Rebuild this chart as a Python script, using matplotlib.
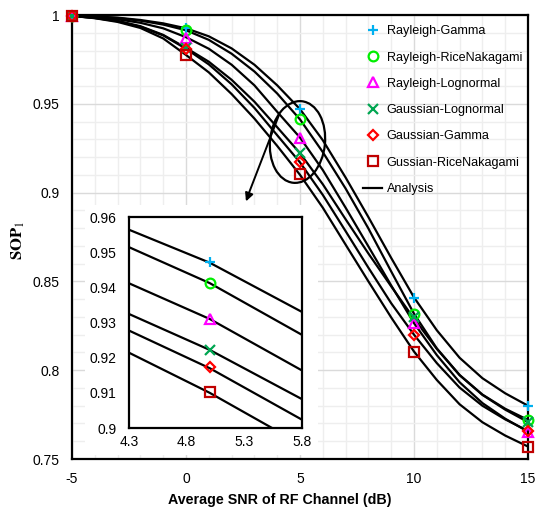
import numpy as np
import matplotlib.pyplot as plt
from matplotlib.patches import Ellipse, Rectangle

plt.rcParams['font.family'] = ['Liberation Sans', 'DejaVu Sans']
plt.rcParams['axes.unicode_minus'] = False
plt.rcParams['mathtext.fontset'] = 'stix'

# Analysis curves (1 dB step)
snr = [-5, -4, -3, -2, -1, 0, 1, 2, 3, 4, 5, 6, 7, 8, 9, 10, 11, 12, 13, 14, 15]
ana_rg = [0.9995, 0.9992, 0.9985, 0.9972, 0.9953, 0.9925, 0.9880, 0.9812, 0.9720, 0.9604, 0.9470,
          0.9295, 0.9085, 0.8862, 0.8632, 0.8410, 0.8225, 0.8070, 0.7955, 0.7870, 0.7800]
ana_rrn = [0.9995, 0.9991, 0.9983, 0.9968, 0.9946, 0.9914, 0.9860, 0.9782, 0.9682, 0.9558, 0.9412,
           0.9228, 0.9023, 0.8798, 0.8556, 0.8318, 0.8123, 0.7973, 0.7863, 0.7783, 0.7720]
ana_rl = [0.9995, 0.9988, 0.9976, 0.9956, 0.9925, 0.9875, 0.9810, 0.9720, 0.9604, 0.9455, 0.9310,
          0.9127, 0.8915, 0.8697, 0.8477, 0.8265, 0.8085, 0.7932, 0.7815, 0.7727, 0.7654]
ana_gl = [0.9995, 0.9984, 0.9967, 0.9937, 0.9888, 0.9815, 0.9737, 0.9635, 0.9512, 0.9368, 0.9222,
          0.9047, 0.8850, 0.8657, 0.8472, 0.8290, 0.8120, 0.7972, 0.7861, 0.7778, 0.7708]
ana_gg = [0.9995, 0.9983, 0.9965, 0.9934, 0.9885, 0.9810, 0.9722, 0.9610, 0.9477, 0.9323, 0.9170,
          0.8987, 0.8783, 0.8577, 0.8377, 0.8200, 0.8040, 0.7902, 0.7800, 0.7723, 0.7658]
ana_grn = [0.9995, 0.9982, 0.9961, 0.9927, 0.9868, 0.9775, 0.9677, 0.9555, 0.9417, 0.9263, 0.9100,
           0.8915, 0.8707, 0.8500, 0.8297, 0.8105, 0.7945, 0.7808, 0.7707, 0.7632, 0.7570]

# Simulation points
snr_sim = [-5, 0, 5, 10, 15]
sim_rg = [0.9995, 0.9925, 0.9471, 0.8405, 0.7800]
sim_rrn = [0.9995, 0.9914, 0.9412, 0.8315, 0.7720]
sim_rl = [0.9995, 0.9872, 0.9310, 0.8268, 0.7654]
sim_gl = [0.9995, 0.9812, 0.9222, 0.8300, 0.7708]
sim_gg = [0.9995, 0.9807, 0.9173, 0.8200, 0.7658]
sim_grn = [0.9995, 0.9775, 0.9103, 0.8100, 0.7570]

labels = ["Rayleigh-Gamma", "Rayleigh-RiceNakagami", "Rayleigh-Lognormal",
          "Gaussian-Lognormal", "Gaussian-Gamma", "Gussian-RiceNakagami"]

curves = [ana_rg, ana_rrn, ana_rl, ana_gl, ana_gg, ana_grn]
sims = [sim_rg, sim_rrn, sim_rl, sim_gl, sim_gg, sim_grn]
styles = [dict(marker='+', color='#00B0F0', mfc='#00B0F0'),
          dict(marker='o', color='#00EE00', mfc='none'),
          dict(marker='^', color='#FF00FF', mfc='none'),
          dict(marker='x', color='#00A651', mfc='#00A651'),
          dict(marker='D', color='#FF0000', mfc='none', ms=5.5),
          dict(marker='s', color='#C00000', mfc='none')]


def draw(ax, clip=True):
    for c in curves:
        ax.plot(snr, c, color='black', lw=1.6, zorder=3)
    hs = []
    for s, lab, st in zip(sims, labels, styles):
        st = dict(st)
        ms = st.pop('ms', 7)
        h, = ax.plot(snr_sim, s, ls='none', mew=1.6, ms=ms, label=lab, zorder=4,
                     mec=st['color'], clip_on=clip, **st)
        hs.append(h)
    return hs


fig = plt.figure(figsize=(5.41, 5.11), dpi=100)
ax = fig.add_axes([72/541, 1-459/511, 456/541, 444/511])
hs = draw(ax, clip=False)
ax.set_xlim(-5, 15)
ax.set_ylim(0.75, 1.0)
ax.set_xticks([-5, 0, 5, 10, 15])
ax.set_yticks([0.75, 0.8, 0.85, 0.9, 0.95, 1.0])
ax.set_yticklabels(['0.75', '0.8', '0.85', '0.9', '0.95', '1'])
ax.set_xticks(np.arange(-5, 16, 1), minor=True)
ax.set_yticks(np.arange(0.75, 1.0, 0.01), minor=True)
ax.grid(which='major', color='#DADADA', lw=1)
ax.grid(which='minor', color='#EEEEEE', lw=1)
ax.set_axisbelow(True)
ax.tick_params(which='both', length=0, labelsize=10)
ax.tick_params(axis='y', pad=9)
ax.tick_params(axis='x', pad=9)
for sp in ax.spines.values():
    sp.set_linewidth(1.6)

ana_h, = ax.plot([], [], color='black', lw=1.6, label='Analysis')
leg = fig.legend(handles=hs + [ana_h], loc='upper left',
                 bbox_to_anchor=(357/541, 1-19/511), frameon=False, fontsize=9.1,
                 labelspacing=1.13, handlelength=1.5, handletextpad=0.35, borderpad=0)

fig.text(280/541, 1-500/511, 'Average SNR of RF Channel (dB)', ha='center', va='center',
         fontsize=10.3, fontweight='bold')
fig.text(18/541, 1-240/511, r'$\mathbf{SOP}_1$', rotation=90, ha='center', va='center',
         fontsize=12)

# zoom marker
ell = Ellipse((2.975, 5.11-1.42), 0.55, 0.82, angle=-6, transform=fig.dpi_scale_trans,
              fill=False, ec='black', lw=1.6, zorder=5)
fig.add_artist(ell)
fig.add_artist(plt.Line2D([2.79, 2.47], [5.11-1.15, 5.11-1.98], transform=fig.dpi_scale_trans,
                          color='black', lw=1.4, zorder=5))
ax.annotate('', xy=(245/541, 1-204/511), xytext=(250/541, 1-191/511), xycoords='figure fraction',
            arrowprops=dict(arrowstyle='-|>', color='black', lw=1.4, mutation_scale=12))

# inset
fig.add_artist(Rectangle((85/541, 1-455/511), 233/541, 250/511, transform=fig.transFigure,
                         facecolor='white', edgecolor='none', zorder=5))
axin = fig.add_axes([129/541, 1-428/511, 173/541, 211/511], zorder=6)
draw(axin)
axin.set_xlim(4.3, 5.8)
axin.set_ylim(0.9, 0.96)
axin.set_xticks([4.3, 4.8, 5.3, 5.8])
axin.set_xticklabels(['4.3', '4.8', '5.3', '5.8'])
axin.set_yticks([0.9, 0.91, 0.92, 0.93, 0.94, 0.95, 0.96])
axin.set_yticklabels(['0.9', '0.91', '0.92', '0.93', '0.94', '0.95', '0.96'])
axin.tick_params(length=0, labelsize=10)
axin.tick_params(axis='y', pad=9)
axin.tick_params(axis='x', pad=5)
for sp in axin.spines.values():
    sp.set_linewidth(1.6)

fig.savefig('out.png', dpi=100)
